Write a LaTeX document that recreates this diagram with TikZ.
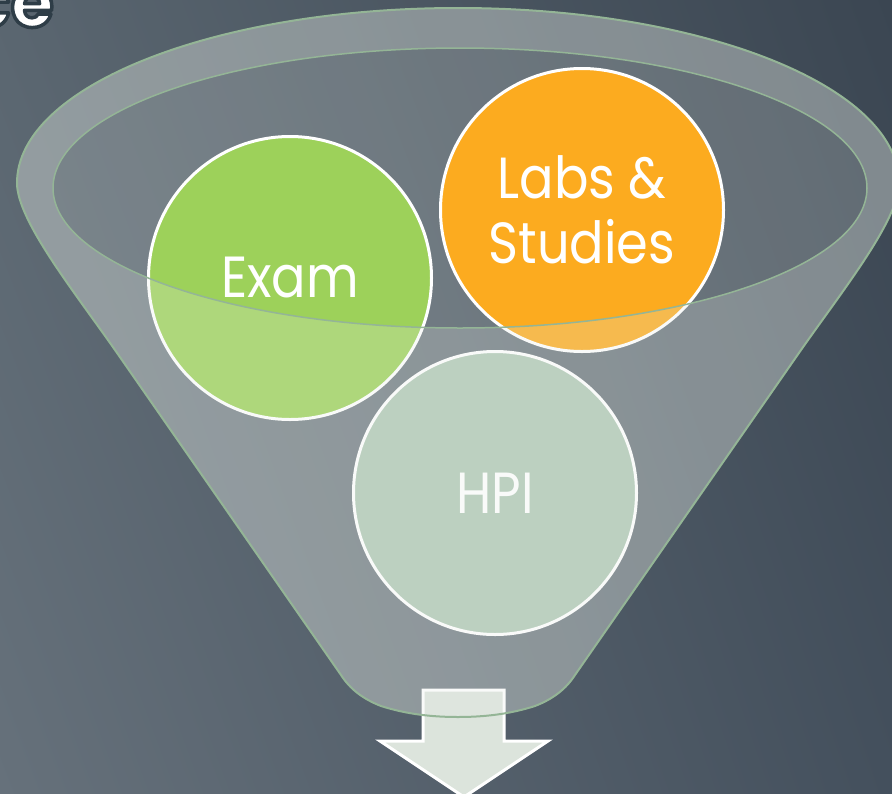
\documentclass[tikz,border=0pt]{standalone}
\usepackage{fontspec}
\usetikzlibrary{shadings}
\setmainfont{Poppins}
\newfontfamily\lblfont[FakeStretch=0.88]{Poppins}
\definecolor{bgTL}{HTML}{5A6670}
\definecolor{bgTR}{HTML}{3B4652}
\definecolor{bgBL}{HTML}{66717B}
\definecolor{bgBR}{HTML}{44505D}
\definecolor{examgreen}{HTML}{9DD15A}
\definecolor{labsorange}{HTML}{FCAB1F}
\definecolor{hpigreen}{HTML}{B0C8B5}
\definecolor{funnelline}{HTML}{94B596}
\definecolor{glass}{HTML}{E6ECE6}
\definecolor{arrowfill}{HTML}{DCE4DC}
\tikzset{
  circ/.style={circle, draw=white, line width=3pt, minimum size=283pt, inner sep=0pt,
    text=white, font=\lblfont\fontsize{58}{65}\selectfont, align=center},
  glassback/.style={fill=glass, fill opacity=0.22},
  glassfront/.style={fill=glass, fill opacity=0.24, even odd rule},
  rim/.style={draw=funnelline, line width=2pt},
  innerrim/.style={draw=funnelline, line width=1.5pt},
  arrowbox/.style={fill=arrowfill, draw=white, line width=3pt, line join=miter},
  titletext/.style={anchor=base east, inner sep=0pt, text=white, font=\fontsize{70}{70}\selectfont\bfseries}
}
\def\funnelpath{(17,183) arc[start angle=180,end angle=360,x radius=441,y radius=175]
  .. controls (899,220) and (843,290) .. (801,350)
  -- (575,675) .. controls (566,689) and (553,699) .. (535,706)
  .. controls (510,714) and (485,717) .. (458,717)
  .. controls (431,717) and (406,714) .. (381,706)
  .. controls (363,699) and (350,689) .. (341,675)
  -- (115,350) .. controls (73,290) and (17,220) .. (17,183) -- cycle}
\def\innerpath{(460,188) ellipse[x radius=407,y radius=140]}
\begin{document}
\begin{tikzpicture}[x=1pt,y=-1pt]
\useasboundingbox (0,0) rectangle (892,793);
\begin{scope}
\clip (0,0) rectangle (892,793);
\shade[upper left=bgTL, upper right=bgTR, lower left=bgBL, lower right=bgBR] (0,0) rectangle (892,793);
% title fragment (white letters with a dark outline)
\node[titletext] (title) at (54,27)
  {\special{pdf:literal direct 2 Tr 3.5 w 1 j 0.18 0.24 0.28 RG}ce\special{pdf:literal direct 0 Tr}};
% funnel back
\fill[glassback] \funnelpath;
% circles
\node[circ, fill=examgreen] (exam) at (290,278) {Exam};
\node[circ, fill=labsorange] (labs) at (582,210) {Labs \&\\Studies};
\node[circ, fill=hpigreen] (hpi) at (495,493) {HPI};
% arrow
\draw[arrowbox] (423,690) -- (504,690) -- (504,741) -- (548,741) -- (464,797) -- (380,741) -- (423,741) -- cycle;
% funnel front
\fill[glassfront] \funnelpath \innerpath;
\draw[rim] \funnelpath;
\draw[innerrim] \innerpath;
\end{scope}
\end{tikzpicture}
\end{document}
